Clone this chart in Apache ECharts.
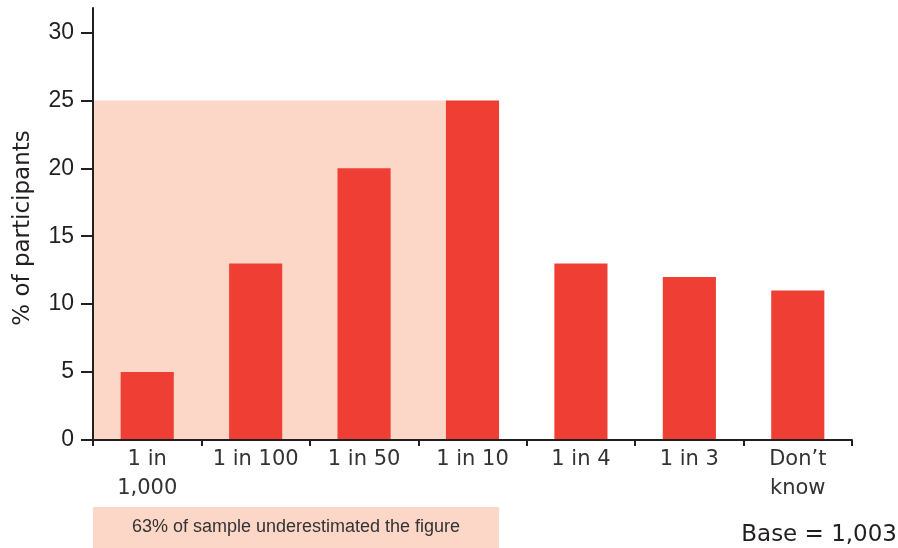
<!DOCTYPE html>
<html>
<head>
<meta charset="utf-8">
<script src="https://cdn.jsdelivr.net/npm/echarts@6/dist/echarts.min.js"></script>
<style>
html,body{margin:0;padding:0;background:#fff;}
#chart{width:898px;height:548px;}
</style>
</head>
<body>
<div id="chart"></div>
<script>
const categories = ['1 in\n1,000', '1 in 100', '1 in 50', '1 in 10', '1 in 4', '1 in 3', 'Don\u2019t\nknow'];
const values = [5, 13, 20, 25, 13, 12, 11];
const yTicks = [0, 5, 10, 15, 20, 25, 30];
const underestimateSpan = [[0, 3, 25]]; // first category, last category, height
const underestimateText = '63% of sample underestimated the figure';
const baseText = 'Base = 1,003';
const yTitle = '% of participants';

const RED = '#EF3E34';
const PEACH = '#FCD6C6';
const INK = '#231F20';
const BAR_FRAC = 0.49;

const chart = echarts.init(document.getElementById('chart'), null, {renderer: 'canvas'});
chart.setOption({
  animation: false,
  backgroundColor: '#fff',
  grid: {left: 93, right: 46, top: 8, bottom: 108, containLabel: false},
  xAxis: {
    type: 'category',
    data: categories,
    z: 5,
    axisLine: {lineStyle: {color: INK, width: 2}},
    axisTick: {show: true, length: 6, lineStyle: {color: INK, width: 2}},
    axisLabel: {
      color: '#333', fontFamily: 'DejaVu Sans', fontSize: 21, lineHeight: 29,
      margin: 5, interval: 0
    },
    splitLine: {show: false}
  },
  yAxis: {
    type: 'value',
    min: 0, max: 31.8, interval: 5,
    z: 5,
    name: yTitle,
    nameLocation: 'middle',
    nameGap: 58,
    nameTextStyle: {color: INK, fontFamily: 'DejaVu Sans', fontSize: 23, padding: [0, 8, 0, 0]},
    axisLine: {show: true, lineStyle: {color: INK, width: 2}},
    axisTick: {show: true, length: 12, lineStyle: {color: INK, width: 2}, customValues: yTicks},
    axisLabel: {color: INK, fontFamily: 'Liberation Sans', fontSize: 23, margin: 19, customValues: yTicks},
    splitLine: {show: false}
  },
  graphic: [{
    type: 'text', right: 1, bottom: 1,
    style: {text: baseText, fill: INK, font: '23px "DejaVu Sans"'}
  }],
  series: [
    {
      type: 'custom',
      z: 1,
      clip: false,
      data: underestimateSpan,
      renderItem: function (params, api) {
        const start = api.value(0), end = api.value(1), top = api.value(2);
        const band = api.size([1, 0])[0];
        const p0 = api.coord([start, 0]);
        const p1 = api.coord([end, top]);
        const x0 = p0[0] - band / 2;
        const x1 = p1[0] + band * BAR_FRAC / 2;
        return {
          type: 'group',
          children: [
            {type: 'rect', shape: {x: x0, y: p1[1], width: x1 - x0, height: p0[1] - p1[1]}, style: {fill: PEACH}},
            {type: 'rect', shape: {x: x0, y: p0[1] + 67, width: x1 - x0, height: 41}, style: {fill: PEACH}},
            {type: 'text', x: (x0 + x1) / 2, y: p0[1] + 87.5,
              style: {text: underestimateText, fill: '#333', font: '18px "Liberation Sans"', align: 'center', verticalAlign: 'middle'}}
          ]
        };
      }
    },
    {
      type: 'bar',
      z: 2,
      data: values,
      barWidth: (BAR_FRAC * 100) + '%',
      itemStyle: {color: RED}
    }
  ]
});
</script>
</body>
</html>
